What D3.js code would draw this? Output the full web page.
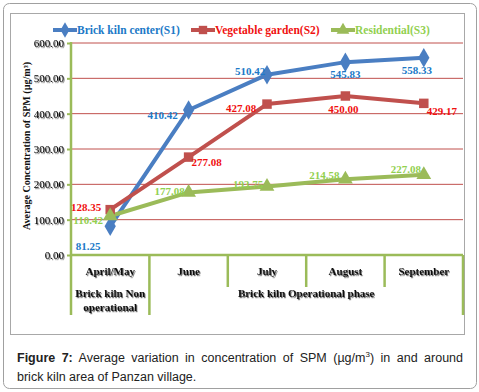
<!DOCTYPE html>
<html><head><meta charset="utf-8">
<script src="https://cdn.jsdelivr.net/npm/d3@7/dist/d3.min.js"></script>
<style>
html,body{margin:0;padding:0;background:#fff;}
svg{display:block;}
</style></head>
<body>
<svg id="c" width="479" height="392"></svg>
<script>
const categories = ["April/May", "June", "July", "August", "September"];
const groups = [
  {lines: ["Brick kiln Non", "operational"], from: 0, to: 0},
  {lines: ["Brick kiln Operational phase"], from: 1, to: 4}
];
const seriesNames = ["Brick kiln center(S1)", "Vegetable garden(S2)", "Residential(S3)"];
const s1 = [81.25, 410.42, 510.42, 545.83, 558.33];
const s2 = [128.35, 277.08, 427.08, 450.00, 429.17];
const s3 = [110.42, 177.08, 193.75, 214.58, 227.08];
const yTicks = [0, 100, 200, 300, 400, 500, 600];
const yTitle = "Average Concentration of SPM (µg/m³)";

// styles / label placement (not data)
const lineColors = ["#4A7EC2", "#C0504D", "#9BBB59"];
const textColors = ["#2079C7", "#F01010", "#92D050"];
const symbols = [d3.symbolDiamond, d3.symbolSquare, d3.symbolTriangle];
const labelOffsets = [
  [[-22, 20], [-26, 5], [-17, -4], [0, 12], [-7, 12]],
  [[-24, -3], [18, 5], [-26, 4], [-2, 13], [18, 8]],
  [[-22, 4], [-19, -1], [-19, -3], [-21, -4], [-18, -6]]
];

const svg = d3.select("#c");
const defs = svg.append("defs");
const f = defs.append("filter").attr("id","sh").attr("x","-20%").attr("y","-30%").attr("width","140%").attr("height","170%");
f.append("feDropShadow").attr("dx",1).attr("dy",1.2).attr("stdDeviation",0.6).attr("flood-color","#000").attr("flood-opacity",0.55);

// frames
svg.append("rect").attr("x",3.5).attr("y",3.5).attr("width",473).attr("height",385).attr("rx",6)
  .attr("fill","#fff").attr("stroke","#a0a0a0");
svg.append("rect").attr("x",10.5).attr("y",13.5).attr("width",454).attr("height",321)
  .attr("fill","#fff").attr("stroke","#a8a8a8");

const L = 71, R = 463, T = 43, B = 255;
const x = d3.scaleBand().domain(categories).range([L, R]);
const y = d3.scaleLinear().domain([0, 600]).range([B, T]);
const green = "#9BBB59";

// gridlines
svg.append("g").selectAll("line").data(yTicks.filter(v => v > 0)).join("line")
  .attr("x1", L).attr("x2", R).attr("y1", d => y(d)).attr("y2", d => y(d))
  .attr("stroke", "#C0504D").attr("stroke-width", 1);

// y axis
const yAxis = d3.axisLeft(y).tickValues(yTicks).tickFormat(d3.format(".2f")).tickSize(4).tickPadding(4);
const gy = svg.append("g").attr("transform", `translate(${L},0)`).call(yAxis);
gy.select(".domain").remove();
gy.selectAll(".tick line").attr("stroke", green).attr("stroke-width", 2);
gy.selectAll(".tick text").attr("font-family", "Liberation Serif, serif").attr("font-size", 11)
  .attr("fill", "#000").attr("filter", "url(#sh)").attr("x", -7);
svg.append("line").attr("x1", L).attr("x2", L).attr("y1", T - 1).attr("y2", 315)
  .attr("stroke", green).attr("stroke-width", 2.5);

// x axis
const gx = svg.append("g").attr("transform", `translate(0,${B})`)
  .call(d3.axisBottom(x).tickSize(0).tickPadding(0));
gx.select(".domain").remove();
gx.selectAll(".tick text").remove();
svg.append("line").attr("x1", L).attr("x2", R).attr("y1", B).attr("y2", B)
  .attr("stroke", green).attr("stroke-width", 2.5);
// separators
categories.forEach((c, i) => {
  const xr = x(c) + x.bandwidth();
  const isGroupEdge = groups.some(g => g.to === i);
  svg.append("line").attr("x1", xr).attr("x2", xr).attr("y1", B).attr("y2", isGroupEdge ? 315 : 287)
    .attr("stroke", green).attr("stroke-width", 2.5);
});
// category labels
svg.append("g").selectAll("text").data(categories).join("text")
  .attr("x", d => x(d) + x.bandwidth() / 2).attr("y", 275)
  .attr("text-anchor", "middle").attr("font-family", "Liberation Serif, serif")
  .attr("font-weight", "bold").attr("font-size", 11).attr("fill", "#111")
  .attr("filter", "url(#sh)").text(d => d);
groups.forEach(g => {
  const cx = (x(categories[g.from]) + x(categories[g.to]) + x.bandwidth()) / 2;
  g.lines.forEach((ln, k) => {
    svg.append("text").attr("x", cx).attr("y", 297 + k * 14).attr("text-anchor", "middle")
      .attr("font-family", "Liberation Serif, serif").attr("font-weight", "bold").attr("font-size", 11)
      .attr("fill", "#111").attr("filter", "url(#sh)").text(ln);
  });
});

// y title
svg.append("text").attr("transform", "translate(30,146) rotate(-90)").attr("text-anchor", "middle")
  .attr("font-family", "Liberation Serif, serif").attr("font-weight", "bold").attr("font-size", 9.5)
  .attr("textLength", 168).attr("lengthAdjust", "spacingAndGlyphs")
  .attr("fill", "#111").text(yTitle);

// series
const allSeries = [s1, s2, s3];
const line = d3.line().x((d, i) => x(categories[i]) + x.bandwidth() / 2).y(d => y(d));
allSeries.forEach((s, si) => {
  svg.append("path").datum(s).attr("d", line).attr("fill", "none")
    .attr("stroke", lineColors[si]).attr("stroke-width", 4).attr("stroke-linejoin", "round");
});
allSeries.forEach((s, si) => {
  const sz = si === 1 ? 90 : (si === 0 ? 110 : 95);
  svg.append("g").selectAll("path").data(s).join("path")
    .attr("transform", (d, i) => `translate(${x(categories[i]) + x.bandwidth() / 2},${y(d)})`)
    .attr("d", d3.symbol().type(symbols[si]).size(sz)).attr("fill", lineColors[si]);
});
allSeries.forEach((s, si) => {
  svg.append("g").selectAll("text").data(s).join("text")
    .attr("x", (d, i) => x(categories[i]) + x.bandwidth() / 2 + labelOffsets[si][i][0])
    .attr("y", (d, i) => y(d) + labelOffsets[si][i][1] + 4)
    .attr("text-anchor", "middle").attr("font-family", "Liberation Serif, serif")
    .attr("font-weight", "bold").attr("font-size", 11).attr("fill", textColors[si])
    .text(d => d3.format(".2f")(d));
});

// legend
const legX = [53, 191, 331];
seriesNames.forEach((n, si) => {
  const g = svg.append("g").attr("transform", `translate(${legX[si]},30)`);
  g.append("line").attr("x1", 0).attr("x2", 24).attr("stroke", lineColors[si]).attr("stroke-width", 4);
  g.append("path").attr("transform", "translate(12,0)").attr("d", d3.symbol().type(symbols[si]).size(70)).attr("fill", lineColors[si]);
  g.append("text").attr("x", 24).attr("y", 4).attr("font-family", "Liberation Serif, serif")
    .attr("font-weight", "bold").attr("font-size", 11.5).attr("fill", textColors[si]).text(n);
});

// caption
const cap1 = svg.append("text").attr("x", 17).attr("y", 362).attr("font-family", "Liberation Sans, Arial, sans-serif")
  .attr("font-size", 12.5).attr("fill", "#222");
cap1.append("tspan").attr("font-weight", "bold").text("Figure 7:");
cap1.append("tspan").text(" Average variation in concentration of SPM (µg/m");
cap1.append("tspan").attr("font-size", 8).attr("dy", -5).text("3");
cap1.append("tspan").attr("dy", 5).text(") in and around");
const target = 463 - 17;
const len = cap1.node().getComputedTextLength();
const spaces = 11;
if (len < target) cap1.attr("word-spacing", (target - len) / spaces);
svg.append("text").attr("x", 17).attr("y", 381).attr("font-family", "Liberation Sans, Arial, sans-serif")
  .attr("font-size", 12.5).attr("fill", "#222").text("brick kiln area of Panzan village.");
</script>
</body></html>
